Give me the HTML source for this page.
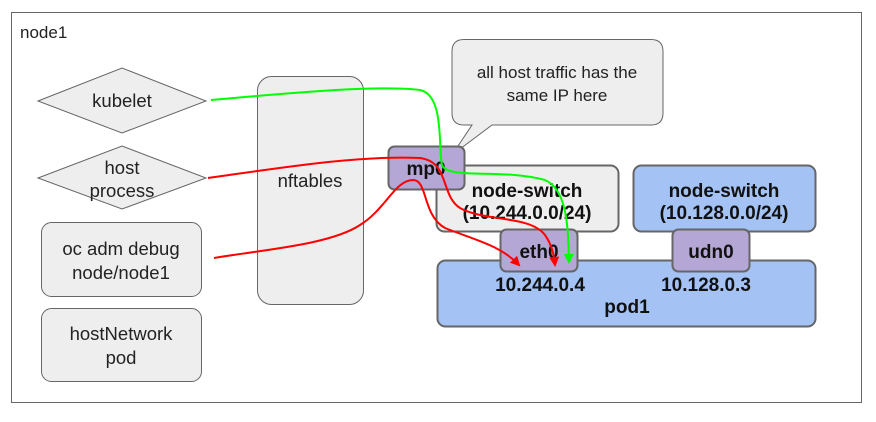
<!DOCTYPE html>
<html><head><style>
body{margin:0;background:#fff}
svg{display:block;font-family:"Liberation Sans","DejaVu Sans",sans-serif}
</style></head><body>
<svg width="876" height="422" viewBox="0 0 876 422">
<defs>
<marker id="ar" markerWidth="10" markerHeight="10" refX="8" refY="5" orient="auto" markerUnits="userSpaceOnUse"><path d="M0,0 L10,5 L0,10 z" fill="#f00"/></marker>
<marker id="ag" markerWidth="10" markerHeight="10" refX="8" refY="5" orient="auto" markerUnits="userSpaceOnUse"><path d="M0,0 L10,5 L0,10 z" fill="#0f0"/></marker>
</defs>
<rect x="11.5" y="12.5" width="850" height="390" fill="#fff" stroke="#666"/>
<text x="20" y="38" font-size="17" fill="#222">node1</text>
<polygon points="38,101 122,68 206,101 122,133" fill="#eee" stroke="#666"/>
<text x="122" y="107" font-size="18.5" text-anchor="middle" fill="#222">kubelet</text>
<polygon points="38,178 122,146 206,178 122,209" fill="#eee" stroke="#666"/>
<text x="122" y="174" font-size="18.5" text-anchor="middle" fill="#222">host</text>
<text x="122" y="197" font-size="18.5" text-anchor="middle" fill="#222">process</text>
<rect x="41.5" y="222.5" width="160" height="74" rx="10" fill="#eee" stroke="#666"/>
<text x="121" y="255" font-size="18.5" text-anchor="middle" fill="#222">oc adm debug</text>
<text x="121" y="279" font-size="18.5" text-anchor="middle" fill="#222">node/node1</text>
<rect x="41.5" y="308.5" width="160" height="73" rx="10" fill="#eee" stroke="#666"/>
<text x="121" y="340" font-size="18.5" text-anchor="middle" fill="#222">hostNetwork</text>
<text x="121" y="364" font-size="18.5" text-anchor="middle" fill="#222">pod</text>
<rect x="257.5" y="76.5" width="106" height="228" rx="14" fill="#eee" stroke="#666"/>
<text x="310" y="187" font-size="18.5" text-anchor="middle" fill="#222">nftables</text>
<path d="M464,39.5 H651 Q663,39.5 663,51.5 V113 Q663,125 651,125 H492 L452,155 L472,125 H464 Q452,125 452,113 V51.5 Q452,39.5 464,39.5 Z" fill="#eee" stroke="#666"/>
<text x="557" y="78" font-size="17" text-anchor="middle" fill="#222">all host traffic has the</text>
<text x="557" y="101" font-size="17" text-anchor="middle" fill="#222">same IP here</text>
<rect x="436.5" y="165.5" width="182" height="66" rx="8" fill="#eee" stroke="#666" stroke-width="2"/>
<text x="527" y="197" font-size="19" font-weight="bold" text-anchor="middle" fill="#111">node-switch</text>
<text x="527" y="219" font-size="19" font-weight="bold" text-anchor="middle" fill="#111">(10.244.0.0/24)</text>
<rect x="633.5" y="165.5" width="182" height="66" rx="8" fill="#a4c2f4" stroke="#666" stroke-width="2"/>
<text x="724" y="197" font-size="19" font-weight="bold" text-anchor="middle" fill="#111">node-switch</text>
<text x="724" y="219" font-size="19" font-weight="bold" text-anchor="middle" fill="#111">(10.128.0.0/24)</text>
<rect x="437.5" y="260.5" width="378" height="66" rx="8" fill="#a4c2f4" stroke="#666" stroke-width="2"/>
<text x="540" y="291" font-size="19" font-weight="bold" text-anchor="middle" fill="#111">10.244.0.4</text>
<text x="706" y="291" font-size="19" font-weight="bold" text-anchor="middle" fill="#111">10.128.0.3</text>
<text x="627" y="313" font-size="19" font-weight="bold" text-anchor="middle" fill="#111">pod1</text>
<rect x="388.5" y="146.5" width="76" height="43" rx="6" fill="#b4a7d6" stroke="#666" stroke-width="2"/>
<text x="426" y="175" font-size="19" font-weight="bold" text-anchor="middle" fill="#111">mp0</text>
<rect x="500.5" y="229.5" width="77" height="42" rx="6" fill="#b4a7d6" stroke="#666" stroke-width="2"/>
<text x="539" y="258" font-size="19" font-weight="bold" text-anchor="middle" fill="#111">eth0</text>
<rect x="672.5" y="229.5" width="77" height="42" rx="6" fill="#b4a7d6" stroke="#666" stroke-width="2"/>
<text x="711" y="258" font-size="19" font-weight="bold" text-anchor="middle" fill="#111">udn0</text>
<path d="M211,100 C300,92 380,85 420,90 C445,95 438,150 442,165 C448,180 500,168 545,180 C568,190 568,230 569,262" fill="none" stroke="#0f0" stroke-width="2" marker-end="url(#ag)"/>
<path d="M208,178 C280,168 360,155 420,158 C450,162 440,195 460,208 C485,222 530,215 545,235 C552,245 554,255 555,265" fill="none" stroke="#f00" stroke-width="2" marker-end="url(#ar)"/>
<path d="M214,258 C260,250 330,245 360,225 C385,210 395,180 413,180 C428,180 422,215 445,228 C475,240 500,245 519,265" fill="none" stroke="#f00" stroke-width="2" marker-end="url(#ar)"/>
</svg>
</body></html>
